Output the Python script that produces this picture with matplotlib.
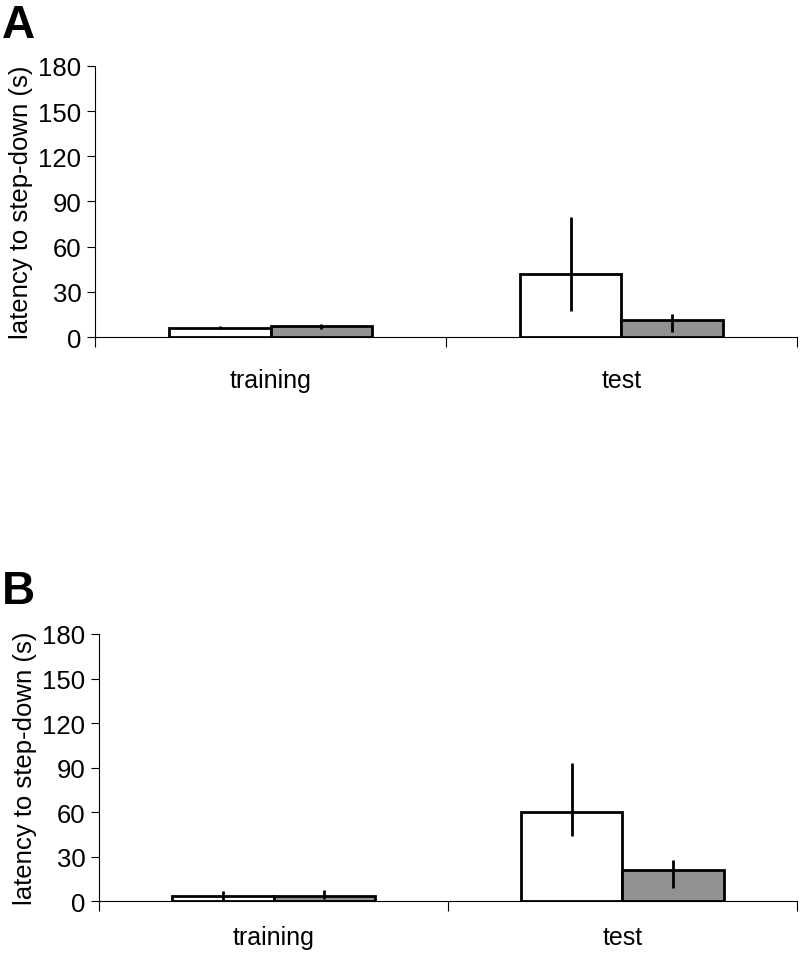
import matplotlib

matplotlib.use("Agg")
import matplotlib.pyplot as plt
import numpy as np

plt.rcParams["font.family"] = ["Liberation Sans", "DejaVu Sans"]

categories = ["training", "test"]
yticks = [0, 30, 60, 90, 120, 150, 180]

# panel A: means with lower / upper error bar ends
a_white = [6, 42]
a_white_lo = [5, 17]
a_white_hi = [7, 80]
a_gray = [7, 11]
a_gray_lo = [5.5, 3]
a_gray_hi = [8.5, 15]

# panel B
b_white = [4, 60]
b_white_lo = [1, 44]
b_white_hi = [7, 93]
b_gray = [4, 21]
b_gray_lo = [1.5, 9]
b_gray_hi = [8, 28]


def draw_panel(ax, white, wlo, whi, gray, glo, ghi, xpad):
    x = np.arange(len(categories))
    w = 0.29
    xw = x - w / 2
    xg = x + w / 2
    ax.bar(xw, white, width=w, color="white", edgecolor="black", linewidth=2, zorder=2)
    ax.bar(xg, gray, width=w, color="#929292", edgecolor="black", linewidth=2, zorder=2)
    ax.vlines(xw, wlo, whi, color="black", linewidth=2, zorder=3)
    ax.vlines(xg, glo, ghi, color="black", linewidth=2, zorder=3)

    ax.set_xlim(-0.5, 1.5)
    ax.set_ylim(0, 180)
    ax.set_yticks(yticks)
    ax.tick_params(axis="y", direction="out", length=6, width=0.8, labelsize=18.5, pad=4)
    ax.set_xticks([-0.5, 0.5, 1.5])
    ax.set_xticklabels([])
    ax.tick_params(axis="x", which="major", direction="out", length=7, width=0.8)
    ax.set_xticks(x, minor=True)
    ax.set_xticklabels(categories, minor=True, fontsize=18)
    ax.tick_params(axis="x", which="minor", length=0, pad=xpad)
    for side in ["top", "right"]:
        ax.spines[side].set_visible(False)
    ax.spines["left"].set_linewidth(0.8)
    ax.spines["bottom"].set_linewidth(0.8)
    ax.set_ylabel("latency to step-down (s)", fontsize=18.5, labelpad=4)


fig = plt.figure(figsize=(8, 9.54), dpi=100)

ax_a = fig.add_axes([0.119, 0.6457, 0.877, 0.2841])
draw_panel(ax_a, a_white, a_white_lo, a_white_hi, a_gray, a_gray_lo, a_gray_hi, 22)
fig.text(0.002, 0.996, "A", fontsize=33, fontweight="bold", va="top", ha="left")

ax_b = fig.add_axes([0.124, 0.054, 0.872, 0.2804])
draw_panel(ax_b, b_white, b_white_lo, b_white_hi, b_gray, b_gray_lo, b_gray_hi, 17)
fig.text(0.002, 0.403, "B", fontsize=33, fontweight="bold", va="top", ha="left")

fig.savefig("out.png", dpi=100)
